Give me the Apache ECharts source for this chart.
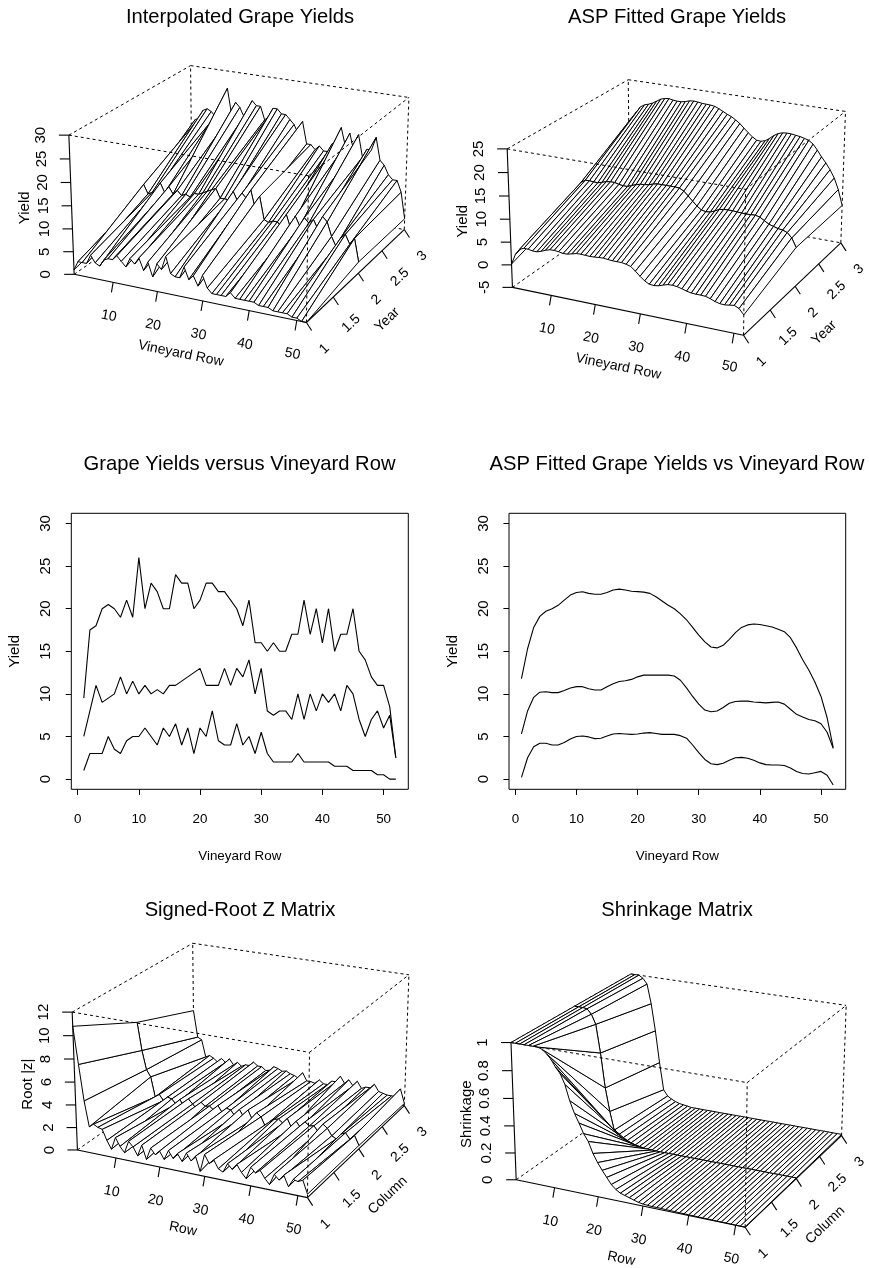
<!DOCTYPE html>
<html><head><meta charset="utf-8">
<style>html,body{margin:0;padding:0;background:#fff}#c{width:869px;height:1268px}</style>
<script src="https://cdn.jsdelivr.net/npm/echarts@6/dist/echarts.min.js"></script>
</head><body><div id="c"></div>
<script>
const rows=[];for(let r=1;r<=52;r++)rows.push(r);
const years=[1,2,3];
const yieldYear1=[1,3,3,3,5,3.5,3,4.5,5,5,6,5,4,6,5,6.5,4,6,3,6,5,8,4.5,4,4,6.5,4,5,3,5.5,3,2,2,2,2,3,2,2,2,2,2,1.5,1.5,1.5,1,1,1,1,.5,.5,0,0];
const yieldYear2=[5,8,11,9,9.5,10,12,10,11.5,10,11,10,10.5,10,11,11,11.5,12,12.5,13,11,11,11,13,11,13,12,14,10,13,8,7.5,8,8,7,10,7,10,8,10,9,10,8,11,10,7,5,7,8,6,7.5,2.5];
const yieldYear3=[9.5,17.5,18,20,20.5,20,19,21,19,26,20,23,22,20,20,24,23,23,20,21,23,23,22,22,21,20,18,21,16,16,15,16,15,15,17,17,21,17,20,16,20,15,17,17,20,15,14,12,11,11,8.5,2.5];
const fitYear1=[.2,2.5,3.8,4.2,4.2,4,4,4.3,4.7,5,5.05,4.95,4.75,4.8,5.05,5.3,5.35,5.3,5.25,5.3,5.4,5.45,5.35,5.25,5.25,5.25,5.1,4.8,4,3.1,2.3,1.8,1.7,1.85,2.2,2.5,2.55,2.45,2.2,1.9,1.7,1.65,1.65,1.6,1.3,.9,.65,.6,.75,.9,.45,-.7];
const fitYear2=[5.3,8,9.6,10.2,10.25,10.15,10.15,10.4,10.7,10.85,10.85,10.6,10.45,10.45,10.85,11.2,11.45,11.55,11.7,12,12.2,12.2,12.2,12.2,12.2,12.1,11.6,10.7,9.7,8.8,8.1,7.9,8,8.4,8.9,9.1,9.15,9.15,9.05,9,8.95,9,9.05,8.8,8.2,7.6,7.3,7,6.85,6.5,5.5,3.6];
const fitYear3=[11.8,15.3,17.8,19.1,19.7,20,20.4,21,21.6,21.9,22,21.8,21.7,21.7,21.9,22.2,22.3,22.2,22.05,22,21.95,21.8,21.4,20.9,20.4,20,19.4,18.7,17.8,16.9,16.1,15.5,15.4,15.7,16.4,17.2,17.8,18.1,18.2,18.15,18,17.85,17.6,17.3,16.6,15.4,14,12.8,11.4,9.7,7.2,3.7];
const rootZ1=[10.8,7.6,4.5,2.3,2.6,2.4,2.3,1.4,.7,1.8,1.1,.63,1.7,1.3,.6,1.6,.43,1.5,1,1.4,.75,1.6,1,1.5,.9,1.7,1.1,1.6,.35,1.9,1.2,1.6,.9,.7,1.5,1.1,1.6,1,.55,1.6,1.2,1.5,.9,.45,1.4,1,1.5,.6,1.3,1.2,1.4,.3];
const rootZ2=[7.8,5.3,3.6,3,1.2,1.5,1,1.4,1.3,.9,1.4,.6,1.6,1.2,.8,1.5,1.2,1.3,1,1.5,.9,1.4,1.3,.8,1.5,.9,1.6,.8,1.5,1.2,.4,.9,1.2,1.3,1,1.5,.7,1.4,.9,1.5,1.2,1.3,.8,1.6,1.3,.7,.5,1,1.2,.7,1.1,.3];
const rootZ3=[5.6,3.1,2.9,1.3,1.5,1.3,1,1.4,1.1,1.5,1,1.3,1,1.2,1.2,1.6,1.3,1.3,1,1.1,1.5,1.4,1.2,1.3,1.1,1,.8,1.4,.7,.7,.6,1,.7,.7,1.1,1.1,1.7,1.1,1.5,1,1.5,.9,1.1,1.1,1.5,.9,.8,.7,.7,.7,1.5,.2];
const shrink1=[1,1,1,1,1,1,1,.99,.965,.93,.88,.84,.77,.66,.575,.51,.44,.39,.31,.25,.2,.155,.11,.08,.06,.05,.04,.03,.02,.015,.012,.01,.01,.01,.008,.008,.007,.006,.006,.005,.005,.004,.004,.003,.003,.002,.002,.002,.001,.001,.001,0];
const shrink2=[1,1,1,.995,.96,.89,.68,.42,.245,.106,.075,.055,.04,.03,.02,.015,.01,.008,.006,.005,.005,.005,.005,.005,.005,.005,.005,.005,.005,.005,.005,.005,.005,.005,.005,.005,.005,.005,.005,.005,.005,.005,.005,.005,.005,.005,.005,.005,.005,.005,.005,.005];
const shrink3=[1,1,1,.98,.94,.79,.58,.33,.115,.07,.05,.035,.025,.02,.015,.01,.01,.01,.01,.01,.01,.01,.01,.01,.01,.01,.01,.01,.01,.01,.01,.01,.01,.01,.01,.01,.01,.01,.01,.01,.01,.01,.01,.01,.01,.01,.01,.01,.01,.01,.01,.01];
const rowTicks=[10,20,30,40,50];
const yearTicks=[1,1.5,2,2.5,3];
const lineXTicks=[0,10,20,30,40,50];
const lineYTicks=[0,5,10,15,20,25,30];

const FONT='"Liberation Sans"';
const THETA=26*Math.PI/180, PHI=21*Math.PI/180, DEPTH=14, EXPAND=0.58;
const RANGE_X=0.105, RANGE_Y=0.09;
function project(x,y,z,zlim){
  const nx=2*(x-1)/51-1, ny=y-2, nz=EXPAND*(2*(z-zlim[0])/(zlim[1]-zlim[0])-1);
  const q=nx*Math.sin(THETA)-ny*Math.cos(THETA);
  const xe=nx*Math.cos(THETA)+ny*Math.sin(THETA);
  const ye=nz*Math.cos(PHI)-q*Math.sin(PHI);
  const ze=nz*Math.sin(PHI)+q*Math.cos(PHI);
  const f=1/(DEPTH-ze);
  return {X:xe*f,Y:ye*f,d:ze};
}
const option={animation:false,backgroundColor:'#fff',title:[],grid:[],xAxis:[],yAxis:[],series:[]};
function addTitle(text,cx,cy){
  option.title.push({text,left:cx-5,top:cy-13.5,textAlign:'center',
    textStyle:{fontFamily:FONT,fontSize:20.2,fontWeight:'normal',color:'#000'}});
}
function addCustom(gi,items,z,draw){
  option.series.push({type:'custom',coordinateSystem:'cartesian2d',xAxisIndex:gi,yAxisIndex:gi,z,clip:false,silent:true,
    encode:{x:0,y:1},data:items.map(()=>[0,0]),
    renderItem:(params,api)=>draw(items[params.dataIndex],api)});
}
function addSurface(cfg){
  const gi=option.grid.length, s=cfg.s;
  option.grid.push({left:cfg.cx-RANGE_X*s,top:cfg.cy-RANGE_Y*s,width:2*RANGE_X*s,height:2*RANGE_Y*s,show:false});
  option.xAxis.push({type:'value',gridIndex:gi,min:-RANGE_X,max:RANGE_X,show:false});
  option.yAxis.push({type:'value',gridIndex:gi,min:-RANGE_Y,max:RANGE_Y,show:false});
  const zl=cfg.zlim, P=(x,y,z,api)=>{const p=project(x,y,z,zl);return api.coord([p.X,p.Y]);};
  const x0=1,x1=52,y0=1,y1=3,z0=zl[0],z1=zl[1];
  const edge=(a,b,off)=>({a,b,off});
  const drawLine=(dash,lw)=>(e,api)=>{
    const p=P(e.a[0],e.a[1],e.a[2],api), q=P(e.b[0],e.b[1],e.b[2],api);
    return {type:'line',shape:{x1:p[0],y1:p[1],x2:q[0],y2:q[1]},
      style:{stroke:'#000',lineWidth:lw,lineDash:dash,fill:null}};
  };
  addCustom(gi,[
    edge([x0,y1,z0],[x1,y1,z0]),edge([x0,y0,z0],[x0,y1,z0]),edge([x0,y1,z0],[x0,y1,z1]),
    edge([x0,y1,z1],[x1,y1,z1]),edge([x0,y0,z1],[x0,y1,z1]),edge([x1,y1,z0],[x1,y1,z1])
  ],2,drawLine([3,3],1));
  const quads=[];
  for(let i=0;i<rows.length-1;i++)for(let j=0;j<years.length-1;j++){
    const c=[[i,j],[i+1,j],[i+1,j+1],[i,j+1]];
    const m=c.reduce((t,k)=>t+cfg.z[k[1]][k[0]],0)/4;
    quads.push({c,d:project(rows[i]+.5,years[j]+.5,m,zl).d});
  }
  quads.sort((a,b)=>a.d-b.d);
  addCustom(gi,quads,3,(q,api)=>({type:'polygon',
    shape:{points:q.c.map(k=>P(rows[k[0]],years[k[1]],cfg.z[k[1]][k[0]],api))},
    style:{fill:'#fff',stroke:'#000',lineWidth:1,lineJoin:'round'}}));
  addCustom(gi,[
    edge([x0,y0,z1],[x1,y0,z1]),edge([x1,y0,z1],[x1,y1,z1]),edge([x1,y0,z0],[x1,y0,z1])
  ],4,drawLine([3,3],1));
  const segs=[edge([x0,y0,z0],[x1,y0,z0]),edge([x1,y0,z0],[x1,y1,z0]),edge([x0,y0,z0],[x0,y0,z1])];
  cfg.rowTicks.forEach(v=>segs.push(edge([v,y0,z0],null,[-1.7,10])));
  cfg.yearTicks.forEach(v=>segs.push(edge([x1,v,z0],null,[5.2,8])));
  cfg.zTicks.forEach(v=>segs.push(edge([x0,y0,v],null,[-10,0])));
  addCustom(gi,segs,5,(e,api)=>{
    const p=P(e.a[0],e.a[1],e.a[2],api);
    const q=e.b?P(e.b[0],e.b[1],e.b[2],api):[p[0]+e.off[0],p[1]+e.off[1]];
    return {type:'line',shape:{x1:p[0],y1:p[1],x2:q[0],y2:q[1]},style:{stroke:'#000',lineWidth:1.1,fill:null}};
  });
  const labels=[];
  cfg.rowTicks.forEach(v=>labels.push({t:String(v),a:[v,y0,z0],o:[-4.3,33.5],r:-.2,f:14}));
  cfg.yearTicks.forEach(v=>labels.push({t:String(v),a:[x1,v,z0],o:[18,26.5],r:.76,f:14}));
  cfg.zTicks.forEach(v=>labels.push({t:String(v),a:[x0,y0,v],o:[-28,0],r:Math.PI/2,f:15}));
  labels.push({t:cfg.xName,a:[26.5,y0,z0],o:[-6,56],r:-.2,f:14});
  labels.push({t:cfg.yName,a:[x1,2,z0],o:[29,46.5],r:.76,f:14});
  labels.push({t:cfg.zName,a:[x0,y0,(z0+z1)/2],o:[-46.5,2],r:Math.PI/2,f:15});
  addCustom(gi,labels,6,(l,api)=>{
    const p=P(l.a[0],l.a[1],l.a[2],api);
    return {type:'text',x:p[0]+l.o[0],y:p[1]+l.o[1],rotation:l.r,
      style:{text:l.t,fill:'#000',fontFamily:FONT,fontSize:l.f,align:'center',verticalAlign:'middle'}};
  });
}
function addLines(left,right,series){
  const gi=option.grid.length;
  option.grid.push({left,top:513.3,width:right-left,height:276,show:true,borderColor:'#000',borderWidth:1,backgroundColor:'transparent'});
  const nm={fontFamily:FONT,color:'#000'};
  option.xAxis.push({type:'value',gridIndex:gi,min:-1.04,max:54.04,name:'Vineyard Row',nameLocation:'middle',nameGap:60.7,
    nameTextStyle:{...nm,fontSize:13.4},splitLine:{show:false},axisLine:{show:false,onZero:false},
    axisTick:{show:true,customValues:lineXTicks,length:5.6,lineStyle:{color:'#000',width:1}},
    axisLabel:{show:true,customValues:lineXTicks,margin:24,...nm,fontSize:13.4,hideOverlap:false,showMinLabel:true,showMaxLabel:true}});
  option.yAxis.push({type:'value',gridIndex:gi,min:-1.2,max:31.2,name:'Yield',nameLocation:'middle',nameGap:49,nameRotate:90,
    nameTextStyle:{...nm,fontSize:15},splitLine:{show:false},axisLine:{show:false,onZero:false},
    axisTick:{show:true,customValues:lineYTicks,length:5.6,lineStyle:{color:'#000',width:1}},
    axisLabel:{show:true,customValues:lineYTicks,rotate:90,margin:17.5,...nm,fontSize:15,hideOverlap:false,showMinLabel:true,showMaxLabel:true,align:'center'}});
  series.forEach(v=>option.series.push({type:'line',xAxisIndex:gi,yAxisIndex:gi,symbol:'none',silent:true,z:3,clip:false,
    lineStyle:{color:'#000',width:1.1},data:rows.map((r,i)=>[r,v[i]])}));
}
addTitle('Interpolated Grape Yields',240,15.5);
addTitle('ASP Fitted Grape Yields',677,15.5);
addTitle('Grape Yields versus Vineyard Row',239.5,463);
addTitle('ASP Fitted Grape Yields vs Vineyard Row',677,463);
addTitle('Signed-Root Z Matrix',240,909);
addTitle('Shrinkage Matrix',677,909);
addSurface({cx:244.2,cy:184.5,s:1752,z:[yieldYear1,yieldYear2,yieldYear3],zlim:[0,30],rowTicks,yearTicks,zTicks:[0,5,10,15,20,25,30],xName:'Vineyard Row',yName:'Year',zName:'Yield'});
addSurface({cx:681.6,cy:198,s:1743,z:[fitYear1,fitYear2,fitYear3],zlim:[-5,25],rowTicks,yearTicks,zTicks:[-5,0,5,10,15,20,25],xName:'Vineyard Row',yName:'Year',zName:'Yield'});
addLines(71.3,408.3,[yieldYear1,yieldYear2,yieldYear3]);
addLines(509,845.7,[fitYear1,fitYear2,fitYear3]);
addSurface({cx:245.8,cy:1061,s:1735,z:[rootZ1,rootZ2,rootZ3],zlim:[0,12],rowTicks,yearTicks,zTicks:[0,2,4,6,8,10,12],xName:'Row',yName:'Column',zName:'Root |z|'});
addSurface({cx:683.8,cy:1091.2,s:1727,z:[shrink1,shrink2,shrink3],zlim:[0,1],rowTicks,yearTicks,zTicks:[0,.2,.4,.6,.8,1],xName:'Row',yName:'Column',zName:'Shrinkage'});
const chart=echarts.init(document.getElementById('c'),null,{renderer:'canvas'});
chart.setOption(option);
</script></body></html>
